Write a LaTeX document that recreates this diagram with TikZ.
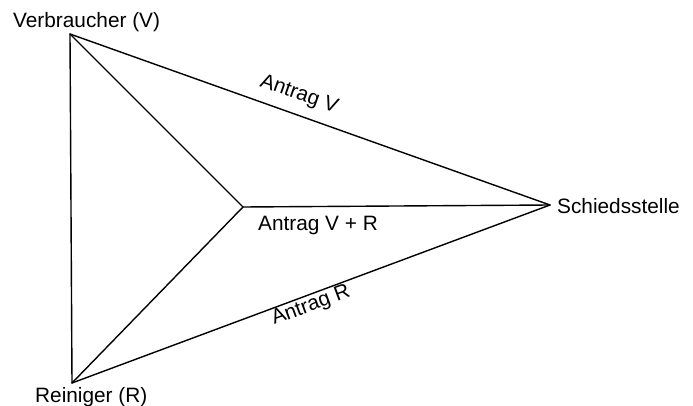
\documentclass[tikz,border=0pt]{standalone}
\usepackage{fontspec}
\setmainfont{Liberation Sans}
\begin{document}
\begin{tikzpicture}[x=1pt,y=-1pt,
  edge/.style={line width=1.4pt, line join=round, line cap=round},
  lbl/.style={inner sep=0pt, font=\fontsize{20.8}{24}\selectfont}]
\useasboundingbox (0,0) rectangle (693,406);
\coordinate (V) at (70,34);
\coordinate (R) at (72,383);
\coordinate (S) at (550,205);
\coordinate (C) at (243,207);
\draw[edge] (V) -- (R);
\draw[edge] (V) -- (S);
\draw[edge] (R) -- (S);
\draw[edge] (V) -- (C);
\draw[edge] (R) -- (C);
\draw[edge] (C) -- (S);
\node[lbl, anchor=base west] (tV) at (13,28) {Verbraucher (V)};
\node[lbl, anchor=base west] (tR) at (35,402) {Reiniger (R)};
\node[lbl, anchor=base west] (tS) at (557,213) {Schiedsstelle};
\node[lbl, anchor=base west] (tVR) at (258,230) {Antrag V + R};
\node[lbl, rotate=-19.6] (tAV) at (299,95) {Antrag V};
\node[lbl, rotate=20.4] (tAR) at (311,306) {Antrag R};
\end{tikzpicture}
\end{document}
